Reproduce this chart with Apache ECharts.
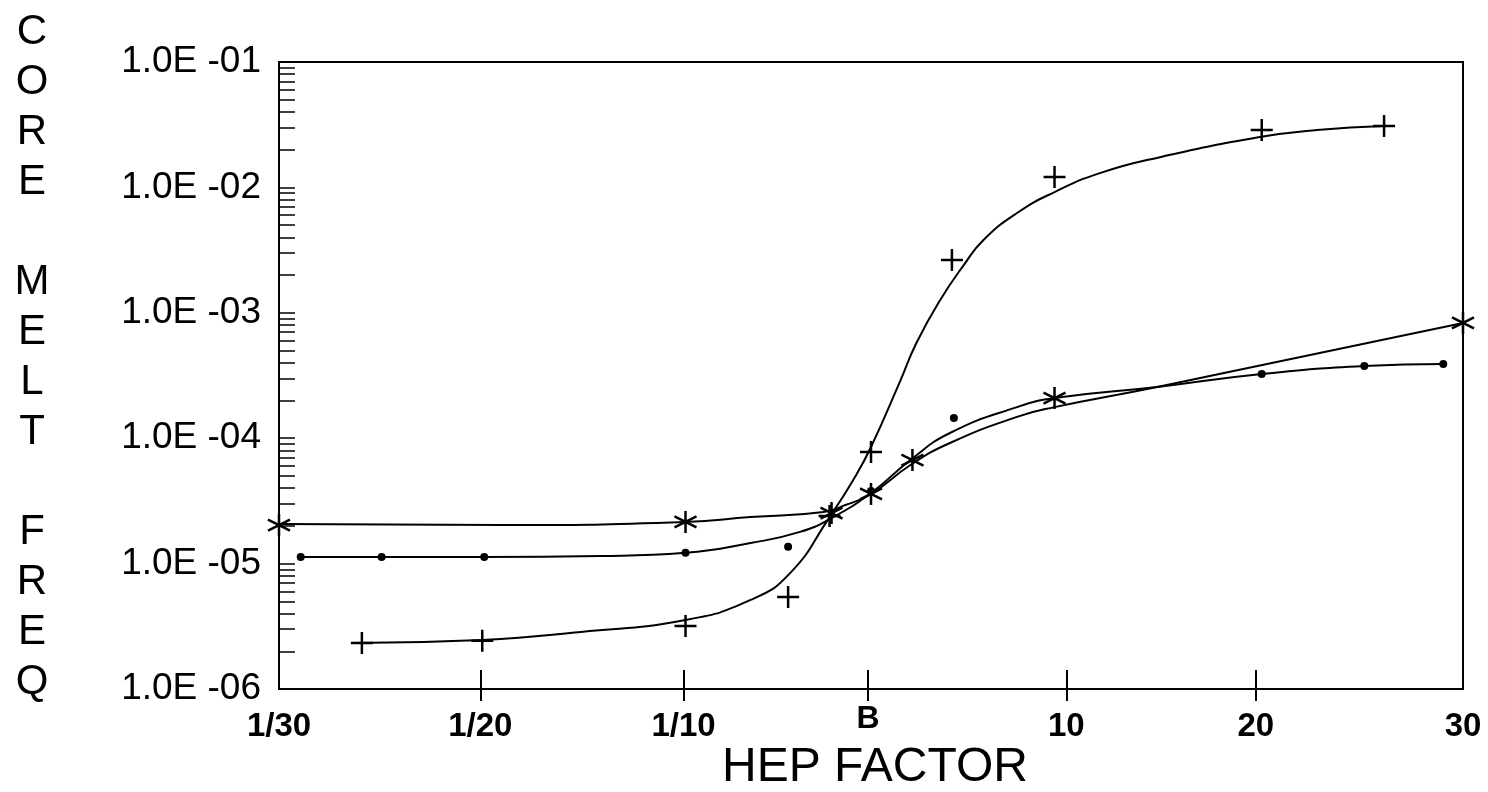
<!DOCTYPE html>
<html>
<head>
<meta charset="utf-8">
<script src="https://cdn.jsdelivr.net/npm/echarts@6/dist/echarts.min.js"></script>
<style>
  html, body { margin: 0; padding: 0; background: #fff; }
  #main { width: 1488px; height: 792px; }
</style>
</head>
<body>
<div id="main"></div>
<script>
// x axis: HEP factor positions (ordinal scale, ticks as drawn)
const xTickPos = [0, 1.02, 2.05, 2.985, 3.99, 4.95, 6];
const xTickLabels = ['1/30', '1/20', '1/10', 'B', '10', '20', '30'];

// y axis: decades of core melt frequency
const yDecades = [1e-6, 1e-5, 1e-4, 1e-3, 1e-2, 1e-1];

// "+" series: markers and fitted curve
const plusX = [0.42, 1.03, 2.06, 2.58, 2.79, 3.00, 3.41, 3.93, 4.98, 5.60];
const plusY = [2.33e-6, 2.42e-6, 3.18e-6, 5.42e-6, 2.40e-5, 7.76e-5, 2.64e-3, 1.21e-2, 2.87e-2, 3.09e-2];
const plusCurveX = [0.37, 1.03, 1.53, 2.06, 2.39, 2.59, 2.79, 2.91, 3.00, 3.15, 3.23, 3.35, 3.47, 3.57, 3.74, 3.93, 4.16, 4.47, 4.97, 5.26, 5.60];
const plusCurveY = [2.33e-6, 2.46e-6, 2.85e-6, 3.55e-6, 5.13e-6, 8.4e-6, 2.35e-5, 4.64e-5, 8.5e-5, 2.91e-4, 5.74e-4, 1.26e-3, 2.40e-3, 3.81e-3, 6.25e-3, 9.18e-3, 1.30e-2, 1.75e-2, 2.52e-2, 2.87e-2, 3.09e-2];

// dot series
const dotX = [0.11, 0.52, 1.04, 2.06, 2.58, 3.00, 3.42, 4.98, 5.50, 5.90];
const dotY = [1.13e-5, 1.13e-5, 1.13e-5, 1.22e-5, 1.36e-5, 3.79e-5, 1.45e-4, 3.25e-4, 3.77e-4, 3.91e-4];
const dotCurveX = [0.11, 1.04, 1.63, 2.06, 2.39, 2.64, 2.80, 3.00, 3.20, 3.40, 3.74, 3.93, 4.45, 4.98, 5.50, 5.90];
const dotCurveY = [1.13e-5, 1.13e-5, 1.15e-5, 1.22e-5, 1.46e-5, 1.79e-5, 2.31e-5, 3.66e-5, 6.70e-5, 1.10e-4, 1.77e-4, 2.09e-4, 2.56e-4, 3.25e-4, 3.77e-4, 3.91e-4];

// asterisk series
const starX = [0, 2.06, 2.80, 3.00, 3.21, 3.93, 6.0];
const starY = [2.03e-5, 2.15e-5, 2.53e-5, 3.59e-5, 6.70e-5, 2.09e-4, 8.30e-4];
const starCurveX = [0, 1.12, 2.06, 2.39, 2.76, 2.87, 3.00, 3.20, 3.40, 3.74, 3.93, 4.45, 6.0];
const starCurveY = [2.07e-5, 2.03e-5, 2.15e-5, 2.35e-5, 2.58e-5, 2.93e-5, 3.59e-5, 6.11e-5, 9.16e-5, 1.48e-4, 1.77e-4, 2.56e-4, 8.30e-4];

const zip = (xs, ys) => xs.map((x, i) => [x, ys[i]]);

// minor log ticks 1..9 per decade
const yTicks = [];
for (let e = -6; e <= -2; e++) {
  for (let m = 1; m <= 9; m++) yTicks.push(m * Math.pow(10, e));
}
yTicks.push(1e-1);

const FONT = 'Liberation Sans';
const PLUS = 'path://M10,0L10,20M0,10L20,10';
const STAR = 'path://M10,0L10,20M1.34,5L18.66,15M1.34,15L18.66,5';

const lineSeries = (data) => ({
  type: 'line',
  data: data,
  smooth: 0.5,
  symbol: 'none',
  lineStyle: { color: '#000', width: 2 },
  z: 2
});

const chart = echarts.init(document.getElementById('main'));
chart.setOption({
  animation: false,
  backgroundColor: '#fff',
  grid: {
    left: 279, right: 25, top: 62, bottom: 103,
    show: true, borderColor: '#000', borderWidth: 2
  },
  graphic: [
    {
      type: 'text', x: 32, y: 7,
      style: {
        text: 'C\nO\nR\nE\n\nM\nE\nL\nT\n\nF\nR\nE\nQ',
        font: '42px "Liberation Sans"', lineHeight: 50,
        fill: '#000', align: 'center'
      }
    },
    {
      type: 'text', x: 875, y: 768,
      style: {
        text: 'HEP FACTOR', font: '48px "Liberation Sans"',
        fill: '#000', align: 'center', verticalAlign: 'middle'
      }
    }
  ],
  xAxis: [
    {
      type: 'value', min: 0, max: 6,
      position: 'bottom',
      splitLine: { show: false },
      axisLine: { lineStyle: { color: '#000', width: 2 } },
      axisTick: {
        show: true, inside: false, length: 12,
        customValues: xTickPos.slice(1, -1),
        lineStyle: { color: '#000', width: 2 }
      },
      axisLabel: {
        customValues: xTickPos,
        margin: 14,
        color: '#000',
        formatter: function (v) {
          let k = 0;
          xTickPos.forEach((p, i) => { if (Math.abs(p - v) < Math.abs(xTickPos[k] - v)) k = i; });
          return xTickLabels[k] === 'B' ? '{b|B}' : '{n|' + xTickLabels[k] + '}';
        },
        rich: {
          n: { fontFamily: FONT, fontSize: 33, fontWeight: 'bold', color: '#000', padding: [7, 0, 0, 0] },
          b: { fontFamily: FONT, fontSize: 32, fontWeight: 'bold', color: '#000' }
        }
      }
    },
    {
      type: 'value', min: 0, max: 6,
      position: 'bottom',
      splitLine: { show: false },
      axisLine: { show: false },
      axisLabel: { show: false },
      axisTick: {
        show: true, inside: true, length: 19,
        customValues: xTickPos.slice(1, -1),
        lineStyle: { color: '#000', width: 2 }
      }
    }
  ],
  yAxis: {
    type: 'log', logBase: 10, min: 1e-6, max: 1e-1,
    splitLine: { show: false },
    axisLine: { lineStyle: { color: '#000', width: 2 } },
    axisTick: {
      inside: true, length: 16,
      customValues: yTicks,
      lineStyle: { color: '#000', width: 1.5 }
    },
    axisLabel: {
      customValues: yDecades,
      margin: 18,
      color: '#000',
      fontFamily: FONT,
      fontSize: 37,
      formatter: function (v) {
        const e = Math.round(Math.log10(v));
        return '1.0E -' + String(-e).padStart(2, '0');
      }
    }
  },
  series: [
    lineSeries(zip(plusCurveX, plusCurveY)),
    lineSeries(zip(dotCurveX, dotCurveY)),
    lineSeries(zip(starCurveX, starCurveY)),
    {
      type: 'scatter', data: zip(plusX, plusY),
      symbol: PLUS, symbolSize: 22,
      itemStyle: { color: 'none', borderColor: '#000', borderWidth: 2.5, opacity: 1 }, z: 3
    },
    {
      type: 'scatter', data: zip(dotX, dotY),
      symbol: 'circle', symbolSize: 8,
      itemStyle: { color: '#000', opacity: 1 }, z: 3
    },
    {
      type: 'scatter', data: zip(starX, starY),
      symbol: STAR, symbolSize: 22,
      itemStyle: { color: 'none', borderColor: '#000', borderWidth: 2.5, opacity: 1 }, z: 3
    }
  ]
});
</script>
</body>
</html>
